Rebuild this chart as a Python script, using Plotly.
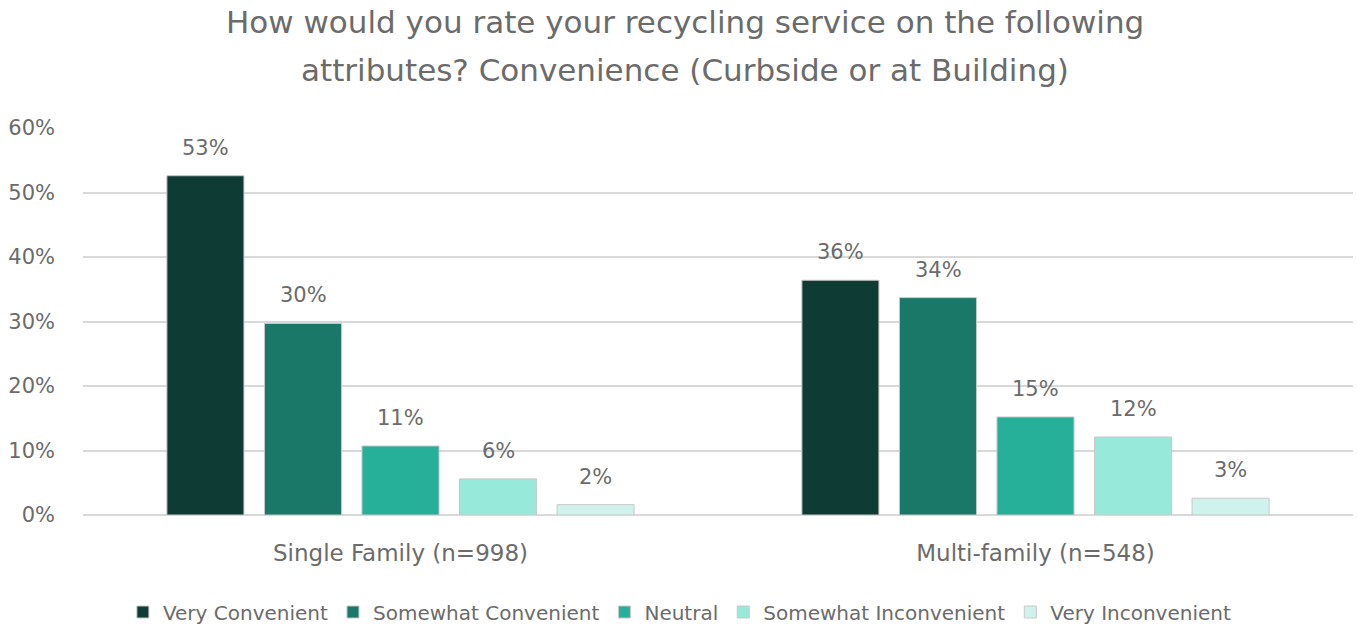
import plotly.graph_objects as go

groups = ["Single Family (n=998)", "Multi-family (n=548)"]
series = ["Very Convenient", "Somewhat Convenient", "Neutral",
          "Somewhat Inconvenient", "Very Inconvenient"]
# percent of respondents per rating, per housing type
values = {
    "Very Convenient":       [52.6, 36.4],
    "Somewhat Convenient":   [29.7, 33.7],
    "Neutral":               [10.7, 15.2],
    "Somewhat Inconvenient": [5.6, 12.1],
    "Very Inconvenient":     [1.6, 2.6],
}
colors = ["#0F3B35", "#1A7868", "#26B09A", "#97E9DA", "#CFF3EC"]
y_ticks = [0, 10, 20, 30, 40, 50, 60]

FONT = "DejaVu Sans, sans-serif"
GREY = "#6b6b6b"

fig = go.Figure()
for i, (name, col) in enumerate(zip(series, colors)):
    fig.add_trace(go.Bar(
        name=name, x=groups, y=values[name], offsetgroup=str(i),
        marker=dict(color=col, line=dict(color="#c8c8c8", width=1)),
    ))

fig.update_layout(
    width=1357, height=629,
    margin=dict(l=83, r=4, t=128, b=114),
    paper_bgcolor="white", plot_bgcolor="white",
    barmode="group", bargap=0.232, bargroupgap=0.21,
    font=dict(family=FONT, color=GREY),
    showlegend=True,
    legend=dict(orientation="h", x=0.47, xanchor="center",
                yref="container", y=1 - 612 / 629, yanchor="middle",
                font=dict(family=FONT, size=20, color=GREY),
                itemwidth=30, tracegroupgap=0, traceorder="normal"),
    xaxis=dict(showline=False, ticks="", ticklabelstandoff=22, automargin=False,
               tickfont=dict(family=FONT, size=23, color=GREY)),
    yaxis=dict(range=[0, 60], tickvals=y_ticks,
               ticktext=[f"{v}%" for v in y_ticks],
               showgrid=True, gridcolor="#d9d9d9", gridwidth=2,
               zeroline=True, zerolinecolor="#d9d9d9", zerolinewidth=2,
               ticks="", ticklabelstandoff=27, automargin=False,
               tickfont=dict(family=FONT, size=21, color=GREY)),
)

# value labels above each bar, placed on the same group offsets as the bars
n = len(series)
for i, name in enumerate(series):
    for g, v in zip(groups, values[name]):
        fig.add_annotation(
            x=g, y=v, text=f"{v:.0f}%", showarrow=False,
            xref="x", yref="y", yanchor="middle", yshift=28,
            xshift=(i - (n - 1) / 2) * 97.5,
            font=dict(family=FONT, size=21, color=GREY),
        )

title_lines = ["How would you rate your recycling service on the following",
               "attributes? Convenience (Curbside or at Building)"]
for i, line in enumerate(title_lines):
    fig.add_annotation(text=line, xref="paper", yref="paper", x=0.474, xanchor="center",
                       y=1 + (106 - 48 * i) / 387, yanchor="middle", showarrow=False,
                       font=dict(family=FONT, size=31, color=GREY))

fig.write_html("out.html")
